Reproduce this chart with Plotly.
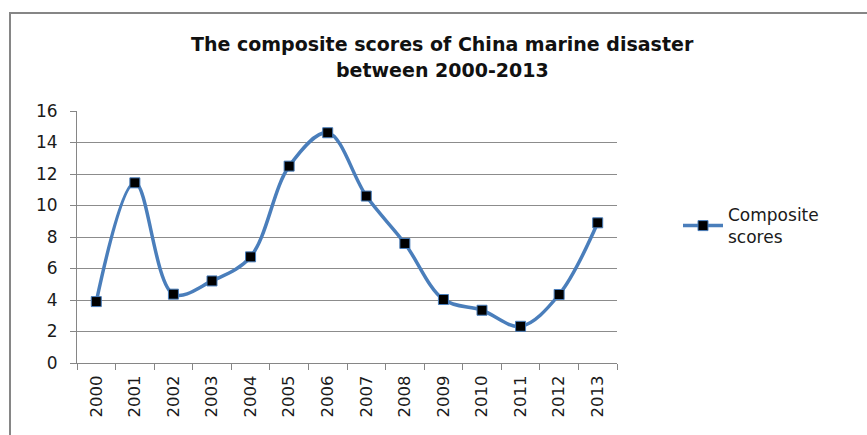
import plotly.graph_objects as go

years = ["2000", "2001", "2002", "2003", "2004", "2005", "2006",
         "2007", "2008", "2009", "2010", "2011", "2012", "2013"]
scores = [3.90, 11.44, 4.37, 5.21, 6.74, 12.50, 14.62,
          10.60, 7.59, 4.03, 3.35, 2.33, 4.35, 8.90]
series_name = "Composite<br>scores"
title_lines = ["The composite scores of China marine disaster", "between 2000-2013"]
y_ticks = [0, 2, 4, 6, 8, 10, 12, 14, 16]

W, H = 867, 435
L, R, T, B = 77, 250, 111, 72
pw, ph = W - L - R, H - T - B


def px_x(px):
    return (px - L) / pw


def px_y(py):
    return (H - B - py) / ph


fig = go.Figure()
fig.add_trace(go.Scatter(
    x=years, y=scores, name=series_name, mode="lines+markers",
    line=dict(color="#4a7ebb", width=3.5, shape="spline", smoothing=1.0),
    marker=dict(symbol="square", size=10, color="black",
                line=dict(color="#4a7ebb", width=1)),
    showlegend=True,
))

title_font = dict(family="DejaVu Sans", size=19, color="#111111", weight="bold")
annotations = [
    dict(text=title_lines[0], xref="paper", yref="paper", x=px_x(442), y=px_y(44),
         xanchor="center", yanchor="middle", showarrow=False, font=title_font),
    dict(text=title_lines[1], xref="paper", yref="paper", x=px_x(442), y=px_y(70.5),
         xanchor="center", yanchor="middle", showarrow=False, font=title_font),
]

fig.update_layout(
    width=W, height=H,
    margin=dict(l=L, r=R, t=T, b=B),
    paper_bgcolor="white", plot_bgcolor="white",
    font=dict(family="DejaVu Sans", size=17, color="#1a1a1a"),
    annotations=annotations,
    xaxis=dict(type="category", tickangle=-90, showgrid=False,
               showline=True, linecolor="#868686", linewidth=1,
               ticks="outside", tickson="boundaries", ticklen=6, tickcolor="#868686",
               tickfont=dict(family="DejaVu Sans", size=16.5, color="#1a1a1a"),
               ticklabelstandoff=5,
               range=[-0.5, len(years) - 0.5], fixedrange=True),
    yaxis=dict(range=[0, 16], tickvals=y_ticks, showgrid=True,
               gridcolor="#8c8c8c", gridwidth=1, zeroline=False,
               showline=True, linecolor="#868686", linewidth=1,
               ticks="outside", ticklen=6, tickcolor="#868686",
               ticklabelstandoff=9,
               tickfont=dict(family="DejaVu Sans", size=17, color="#1a1a1a")),
    legend=dict(x=px_x(678), y=px_y(197), xanchor="left", yanchor="top",
                font=dict(family="DejaVu Sans", size=17, color="#1a1a1a"),
                bgcolor="rgba(0,0,0,0)", itemwidth=40),
    shapes=[dict(type="rect", xref="paper", yref="paper",
                 x0=px_x(10), x1=px_x(875),
                 y0=px_y(445), y1=px_y(13),
                 line=dict(color="#868686", width=2), layer="below")],
)

fig.write_html("out.html")
